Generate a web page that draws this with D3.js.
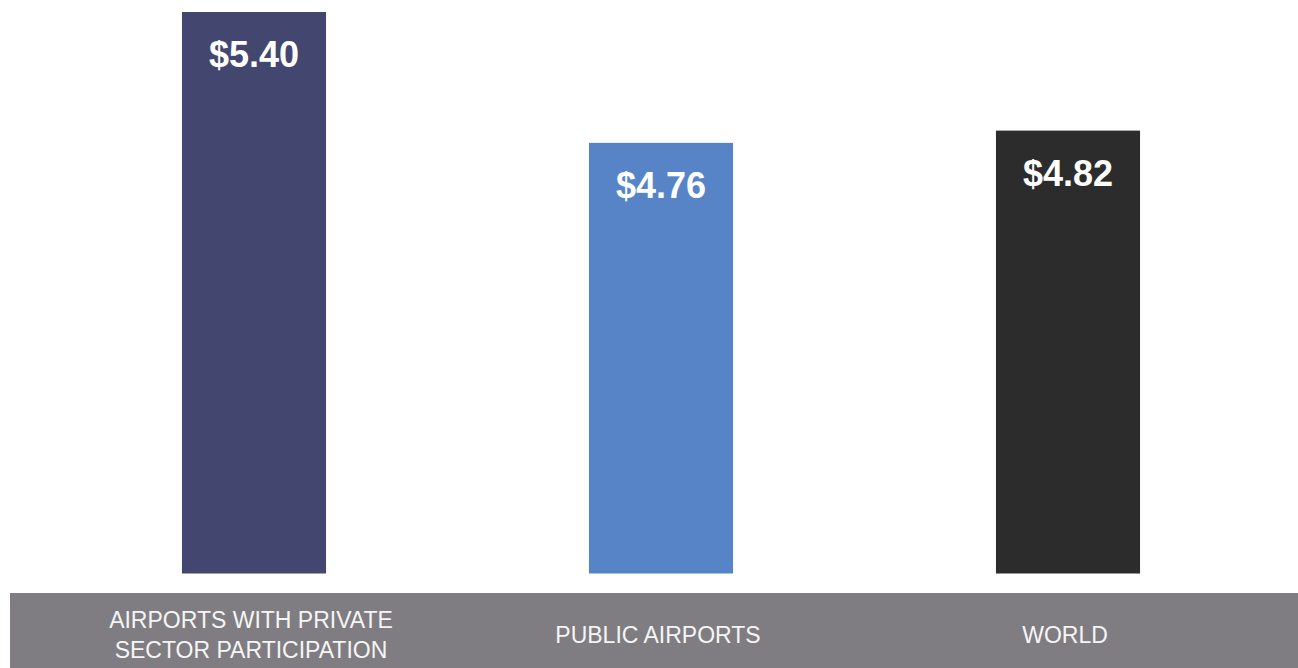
<!DOCTYPE html>
<html>
<head>
<meta charset="utf-8">
<script src="https://cdn.jsdelivr.net/npm/d3@7"></script>
<style>
  html, body { margin: 0; padding: 0; background: #ffffff; }
  svg { display: block; }
</style>
</head>
<body>
<script>
// Average value per category (US dollars)
const categories = ["AIRPORTS WITH PRIVATE SECTOR PARTICIPATION", "PUBLIC AIRPORTS", "WORLD"];
const labelLines = [["AIRPORTS WITH PRIVATE", "SECTOR PARTICIPATION"], ["PUBLIC AIRPORTS"], ["WORLD"]];
const values = [5.40, 4.76, 4.82];
const colors = ["#43466f", "#5684c6", "#2c2c2c"];

const W = 1298, H = 668;
const svg = d3.select("body").append("svg").attr("width", W).attr("height", H);

const x = d3.scaleBand()
  .domain(categories)
  .range([50.5, 1271.5])
  .paddingInner(0.646)
  .paddingOuter(0.323);

// value axis does not start at zero
const y = d3.scaleLinear().domain([2.654, 5.40]).range([573.5, 12]);

// category band at the bottom
svg.append("rect")
  .attr("x", 10).attr("y", 593)
  .attr("width", W - 10).attr("height", H - 593)
  .attr("fill", "#807d82");

const bars = svg.append("g").selectAll("g")
  .data(categories.map((c, i) => ({ c, v: values[i], color: colors[i], lines: labelLines[i] })))
  .join("g");

bars.append("rect")
  .attr("x", d => x(d.c))
  .attr("y", d => y(d.v))
  .attr("width", x.bandwidth())
  .attr("height", d => y.range()[0] - y(d.v))
  .attr("fill", d => d.color);

bars.append("text")
  .attr("x", d => x(d.c) + x.bandwidth() / 2)
  .attr("y", d => y(d.v) + 55)
  .attr("text-anchor", "middle")
  .attr("font-family", "'Liberation Sans', Arial, sans-serif")
  .attr("font-weight", "bold")
  .attr("font-size", 36)
  .attr("fill", "#ffffff")
  .text(d => "$" + d.v.toFixed(2));

// category labels, vertically centred in the band
bars.append("text")
  .attr("text-anchor", "middle")
  .attr("font-family", "'Liberation Sans', Arial, sans-serif")
  .attr("font-size", 23)
  .attr("fill", "#f5f5f5")
  .each(function(d) {
    const n = d.lines.length;
    const cx = x(d.c) + x.bandwidth() / 2 - 3;
    d3.select(this).selectAll("tspan")
      .data(d.lines)
      .join("tspan")
      .attr("x", cx)
      .attr("y", (l, i) => 643 + (i - (n - 1) / 2) * 30)
      .text(l => l);
  });
</script>
</body>
</html>
